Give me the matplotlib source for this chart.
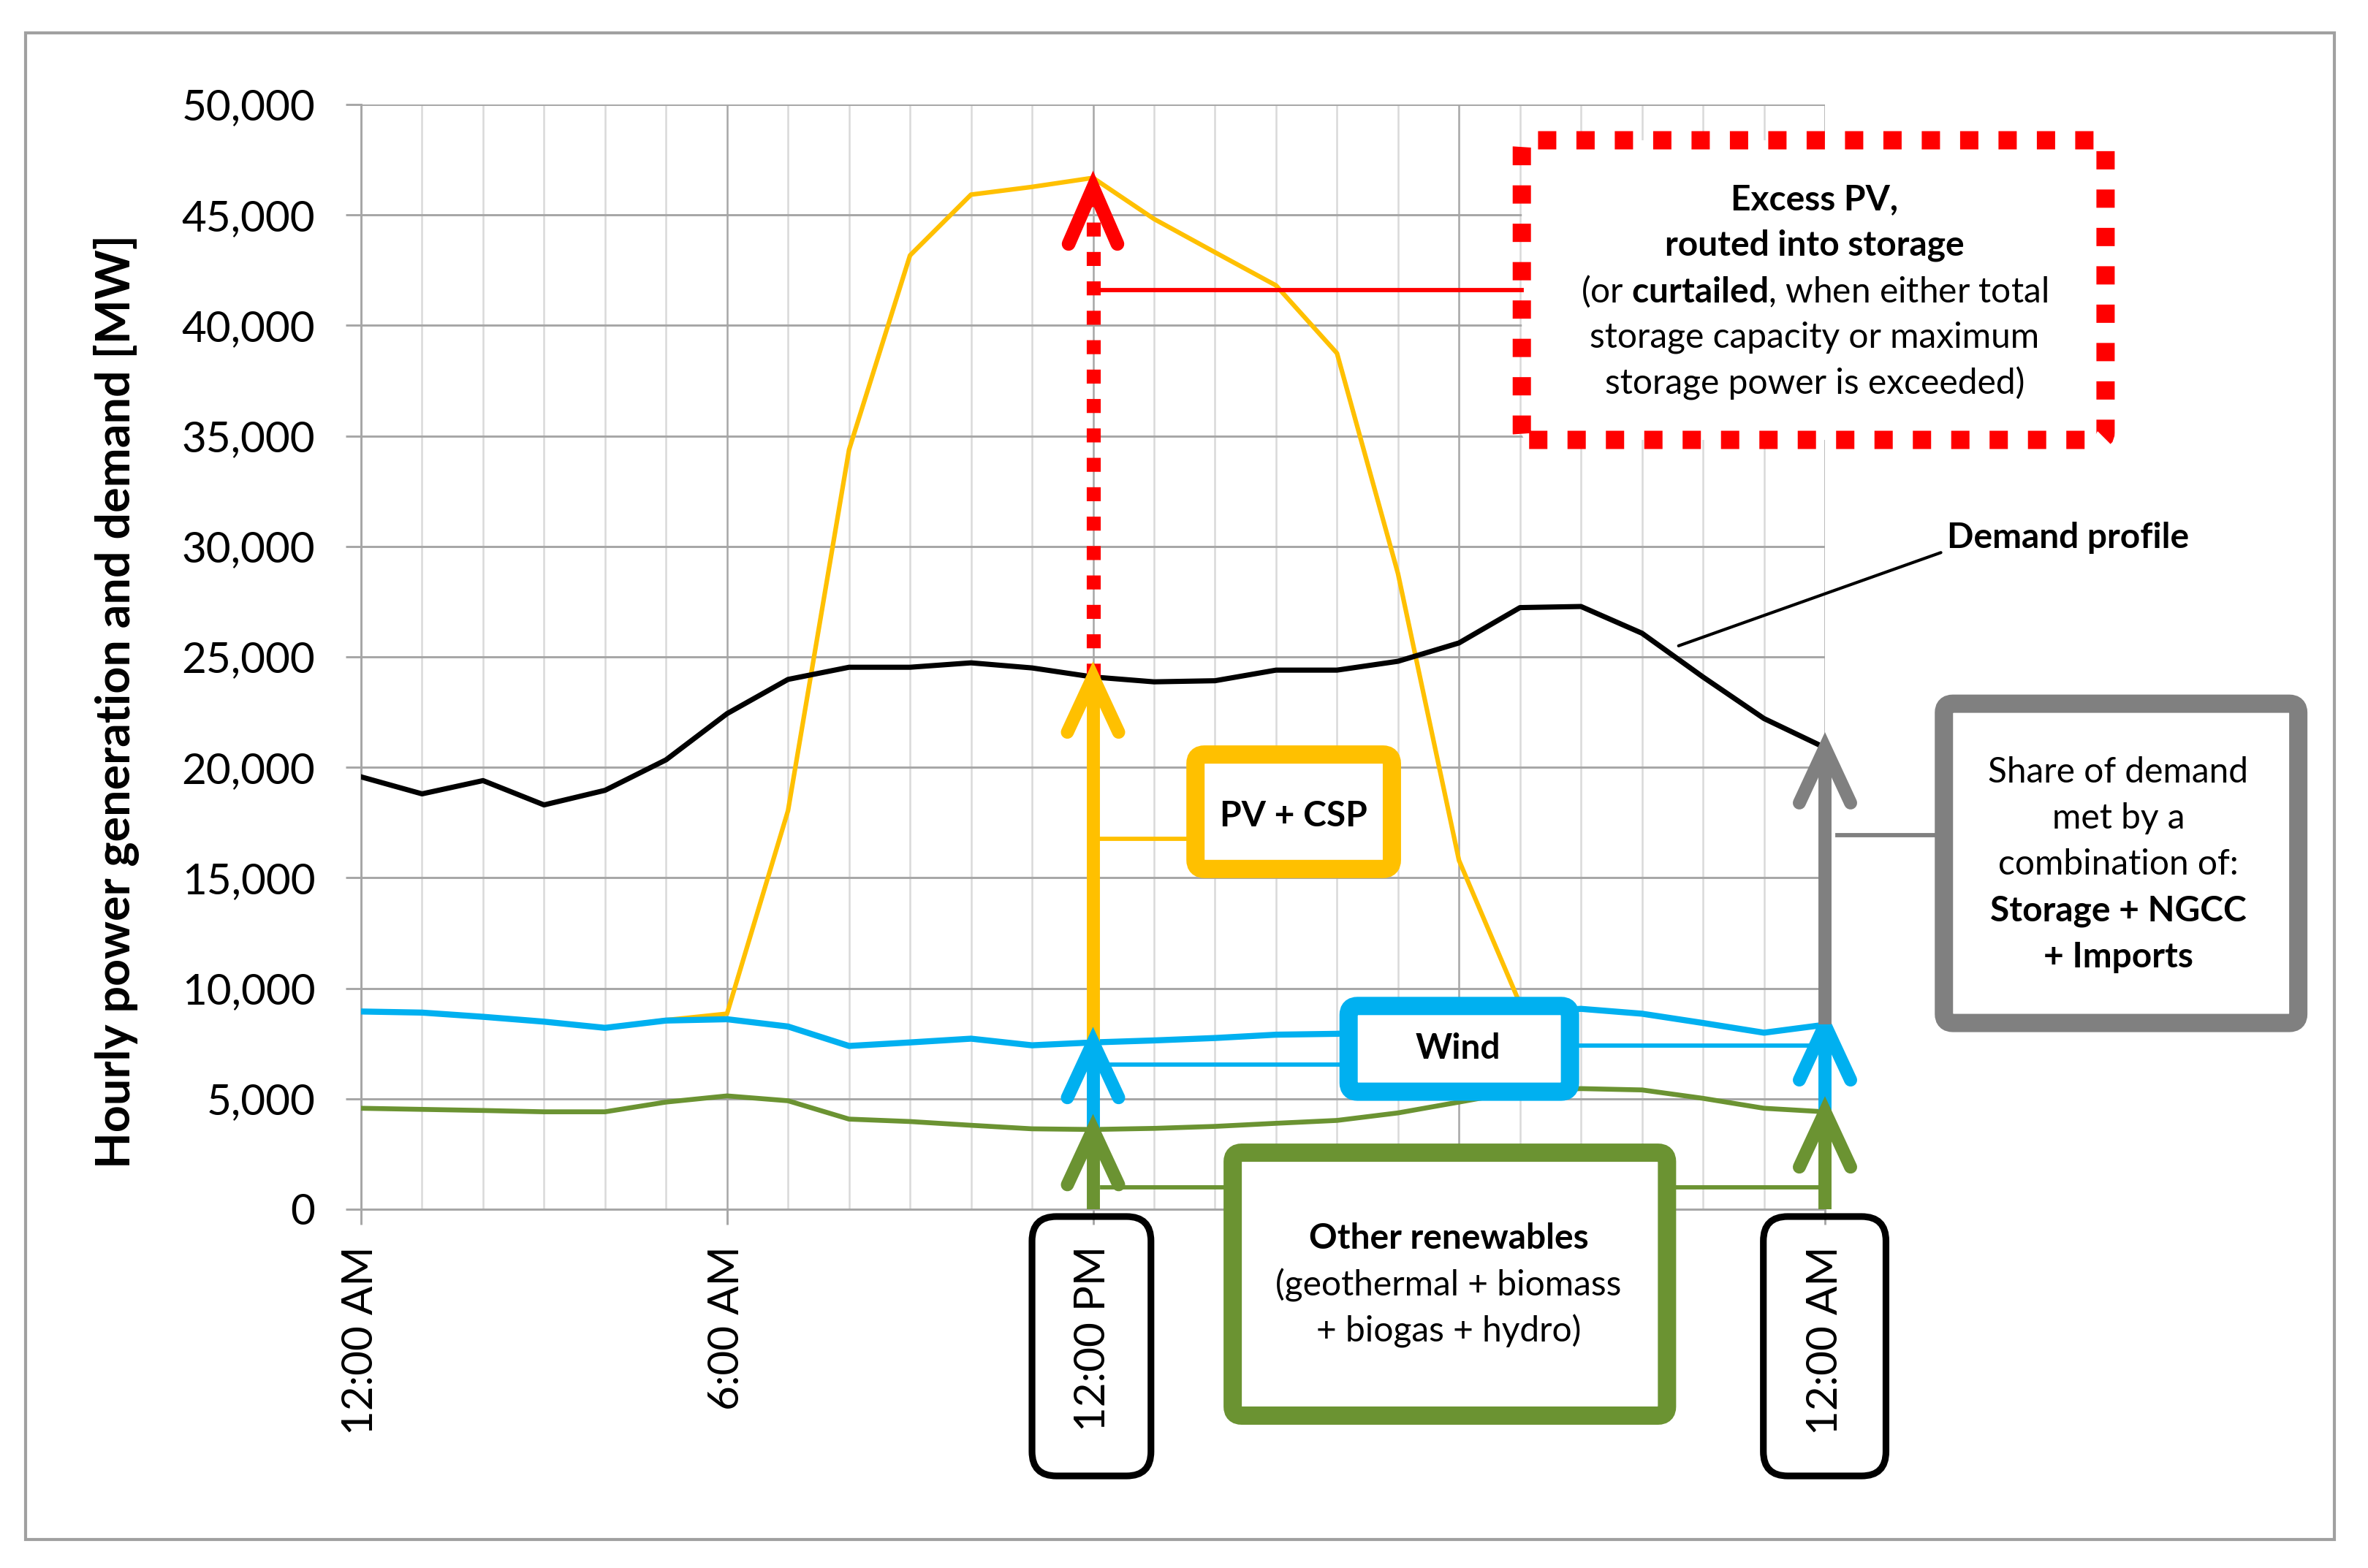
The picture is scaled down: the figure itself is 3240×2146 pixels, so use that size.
import matplotlib.pyplot as plt
from matplotlib.patches import FancyBboxPatch, Rectangle
from matplotlib.ticker import FuncFormatter, MultipleLocator, FixedLocator

plt.rcParams["font.family"] = ["Lato", "DejaVu Sans"]
plt.rcParams["mathtext.fontset"] = "custom"
plt.rcParams["mathtext.rm"] = "Lato"
plt.rcParams["mathtext.bf"] = "Lato:bold"

# hourly values (MW), hour 0 .. 24
hours = list(range(25))
demand = [19570, 18800, 19400, 18300, 18960, 20340, 22430, 23980, 24530, 24530,
          24730, 24500, 24090, 23870, 23920, 24400, 24400, 24800, 25630, 27230,
          27280, 26070, 24090, 22210, 20890]
pv_csp = [8950, 8900, 8710, 8490, 8210, 8560, 8850, 18040, 34370, 43170,
          45920, 46270, 46680, 44820, 43310, 41810, 38740, 28770, 15790, 9300,
          9070, 8850, 8430, 7990, 8350]
wind = [8950, 8900, 8710, 8490, 8210, 8540, 8600, 8270, 7390, 7550,
        7720, 7420, 7550, 7640, 7750, 7900, 7940, 8100, 8500, 8900,
        9070, 8850, 8430, 7990, 8350]
other = [4570, 4520, 4470, 4410, 4410, 4850, 5130, 4910, 4080, 3970,
         3800, 3640, 3610, 3660, 3750, 3890, 4020, 4360, 4850, 5350,
         5460, 5400, 5020, 4570, 4410]

tick_hours = [0, 6, 12, 18, 24]
tick_labels = ["12:00 AM", "6:00 AM", "12:00 PM", "", "12:00 AM"]

YELLOW = "#FFC000"
BLUE = "#00B0F0"
GREEN = "#6B9332"
RED = "#FF0000"
GRAY = "#808080"

W, H = 3240, 2146
fig = plt.figure(figsize=(W / 300, H / 300), dpi=300)
L, R, T, B = 494, 2497, 143, 1655
ax = fig.add_axes([L / W, 1 - B / H, (R - L) / W, (B - T) / H])

# frame around the whole picture
fig.patches.append(Rectangle((35 / W, 1 - 2107 / H), (3194 - 35) / W, (2107 - 45) / H,
                             transform=fig.transFigure, fill=False,
                             ec="#a0a0a0", lw=1.0))

ax.plot(hours, pv_csp, color=YELLOW, lw=1.5, zorder=3)
ax.plot(hours, other, color=GREEN, lw=1.6, zorder=3)
ax.plot(hours, wind, color=BLUE, lw=2.0, zorder=3)
ax.plot(hours, demand, color="black", lw=1.7, zorder=3)

ax.set_xlim(0, 24)
ax.set_ylim(0, 50000)
ax.yaxis.set_major_locator(MultipleLocator(5000))
ax.yaxis.set_major_formatter(FuncFormatter(lambda v, p: f"{v:,.0f}"))
ax.xaxis.set_major_locator(FixedLocator(tick_hours))
ax.xaxis.set_minor_locator(MultipleLocator(1))
ax.set_xticklabels(tick_labels, rotation=90)
ax.tick_params(axis="y", labelsize=14, length=5, pad=10, color="#a6a6a6", width=0.7)
ax.tick_params(axis="x", which="major", labelsize=14, length=5, pad=7,
               color="#a6a6a6", width=0.7)
ax.tick_params(axis="x", which="minor", length=0)
ax.grid(axis="y", color="#a6a6a6", lw=0.7)
ax.grid(axis="x", which="major", color="#a6a6a6", lw=0.6)
ax.grid(axis="x", which="minor", color="#d9d9d9", lw=0.6)
ax.set_axisbelow(True)
for s in ["top", "right"]:
    ax.spines[s].set_visible(False)
for s in ["left", "bottom"]:
    ax.spines[s].set_color("#a6a6a6")
    ax.spines[s].set_linewidth(0.7)

fig.text(160 / W, 1 - 960 / H, "Hourly power generation and demand [MW]",
         rotation=90, ha="center", va="center", fontsize=15.5, fontweight="bold")

# equal pixel aspect for rounded corners
aspect = (50000 / (B - T)) / (24 / (R - L))


def rbox(x0, y0, x1, y1, color, lw=6, r=0.15, ls="-", fc="white", z=6):
    p = FancyBboxPatch((x0, y0), x1 - x0, y1 - y0,
                       boxstyle=f"round,pad=0,rounding_size={r}",
                       mutation_aspect=aspect, fc=fc, ec=color, lw=lw, ls=ls,
                       zorder=z, clip_on=False)
    ax.add_patch(p)


def up_arrow(x, y0, y1, color, lw=4.3, hl=2500, hw=0.42, ls="-", shaft_lw=None):
    ax.plot([x, x], [y0, y1 - 300], color=color, lw=shaft_lw or lw, ls=ls,
            solid_capstyle="butt", dash_capstyle="butt", zorder=8, clip_on=False)
    ax.plot([x - hw, x, x + hw], [y1 - hl, y1, y1 - hl], color=color, lw=lw,
            solid_capstyle="round", solid_joinstyle="miter", zorder=8, clip_on=False)


def hline(x0, x1, y, color, lw=1.4):
    ax.plot([x0, x1], [y, y], color=color, lw=lw, zorder=7, clip_on=False)


def lines_in(x, y_top, step, items, size=11.5):
    for i, (txt, wt) in enumerate(items):
        ax.text(x, y_top - i * step, txt, ha="center", va="center", fontsize=size,
                fontweight=wt, zorder=9, clip_on=False)


# excess PV -> storage
up_arrow(12, demand[12], pv_csp[12] - 450, RED, lw=4.5, hl=2540, hw=0.40,
         ls=(0, (1, 1.1)), shaft_lw=4.6)
hline(12.15, 19.03, 41610, RED)
rbox(19.03, 34820, 28.6, 48380, RED, lw=6, ls=(0, (1, 1.1)), r=0.12)
lines_in(23.83, 45700, 2080, [
    ("Excess PV,", "bold"),
    ("routed into storage", "bold"),
    (r"(or $\mathbf{curtailed}$, when either total", "normal"),
    ("storage capacity or maximum", "normal"),
    ("storage power is exceeded)", "normal"),
])

# PV + CSP
up_arrow(12, wind[12], demand[12], YELLOW)
hline(12.1, 13.68, 16770, YELLOW)
rbox(13.68, 15400, 16.9, 20580, YELLOW)
lines_in(15.29, 17790, 0, [("PV + CSP", "bold")])

# wind
up_arrow(12, other[12], wind[12], BLUE)
up_arrow(24, other[24], wind[24], BLUE)
hline(12.26, 16.19, 6560, BLUE)
hline(19.82, 23.88, 7420, BLUE)
rbox(16.19, 5320, 19.82, 9200, BLUE)
lines_in(17.98, 7280, 0, [("Wind", "bold")])

# other renewables
up_arrow(12, 0, other[12], GREEN)
up_arrow(24, 0, other[24], GREEN)
hline(12.15, 14.29, 990, GREEN)
hline(21.41, 23.9, 990, GREEN)
rbox(14.29, -9340, 21.41, 2560, GREEN)
lines_in(17.83, -1320, 2100, [
    ("Other renewables", "bold"),
    ("(geothermal + biomass", "normal"),
    ("+ biogas + hydro)", "normal"),
])

# rest of demand
up_arrow(24, wind[24], demand[24], GRAY)
hline(24.2, 25.95, 16930, GRAY)
rbox(25.95, 8430, 31.76, 22880, GRAY)
lines_in(28.81, 19790, 2095, [
    ("Share of demand", "normal"),
    ("met by a", "normal"),
    ("combination of:", "normal"),
    ("Storage + NGCC", "bold"),
    ("+ Imports", "bold"),
])

# boxes around two tick labels
rbox(11.0, -12070, 12.95, -330, "black", lw=2.2, r=0.4, fc="none", z=7)
rbox(22.99, -12070, 25.0, -330, "black", lw=2.2, r=0.4, fc="none", z=7)

ax.annotate("Demand profile", xy=(21.6, 25500), xytext=(26.0, 30400),
            ha="left", va="center", fontsize=11.5, fontweight="bold",
            annotation_clip=False,
            arrowprops=dict(arrowstyle="-", lw=1.0, color="black",
                            relpos=(0, 0.1), shrinkA=0, shrinkB=0))

fig.savefig("out.png", dpi=300)
